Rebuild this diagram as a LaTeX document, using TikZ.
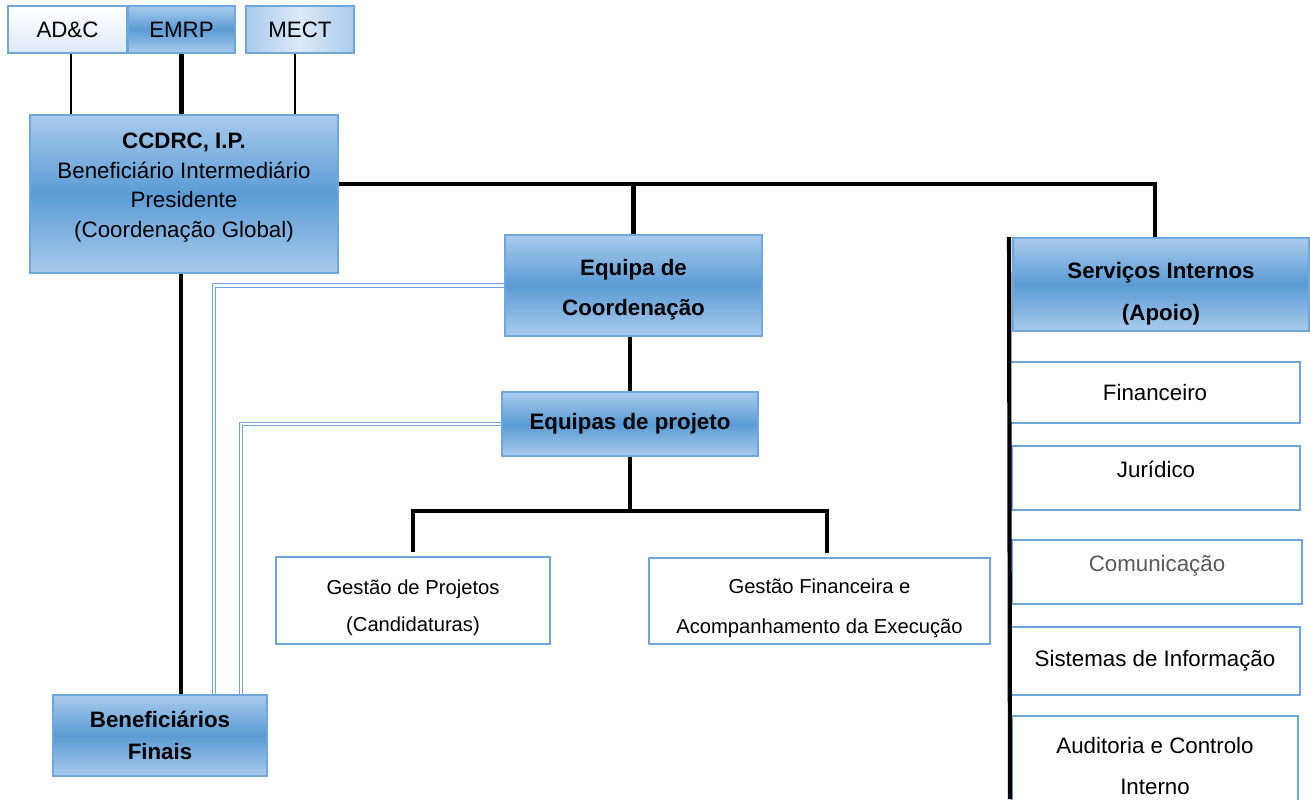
\documentclass[tikz,border=0pt]{standalone}
\usepackage{fontspec}
\setmainfont{Liberation Sans}
\usetikzlibrary{positioning}

\definecolor{boxline}{HTML}{6FA6DC}
\definecolor{darkfill}{HTML}{5B9BD5}
\definecolor{lightfill}{HTML}{A9CBEC}
\definecolor{palefill}{HTML}{DCE9F7}
\definecolor{greytext}{HTML}{595959}

\tikzset{
  base/.style={rectangle, draw=boxline, line width=1.1pt, align=center, inner sep=2pt,
    font=\fontsize{12.7}{15}\selectfont},
  bluebox/.style={base, top color=lightfill, bottom color=lightfill, middle color=darkfill},
  whitebox/.style={base, fill=white},
  smallbox/.style={whitebox, font=\fontsize{11.5}{14}\selectfont},
  thickline/.style={line width=2.4pt, black},
  thinline/.style={line width=0.9pt, black},
  dbline/.style={draw=boxline, line width=0.5pt, double=white, double distance=1.3pt}
}

\begin{document}
\begin{tikzpicture}[x=0.02cm,y=-0.02cm]
  \clip (0,0) rectangle (1310,799);
  \fill[white] (0,0) rectangle (1310,799);

  % Tutela
  \node[base, top color=white, bottom color=palefill, minimum width=2.38cm, minimum height=0.94cm] (adc) at (67.5,29.5) {AD\&C};
  \node[bluebox, minimum width=2.14cm, minimum height=0.94cm] (emrp) at (181.5,29.5) {EMRP};
  \node[base, left color=lightfill, right color=lightfill, middle color=palefill, minimum width=2.16cm, minimum height=0.94cm] (mect) at (300,29.5) {MECT};

  % Coordenacao
  \node[bluebox, minimum width=6.16cm, minimum height=3.16cm, text depth=0.35cm] (ccdrc) at (184,194)
    {\textbf{CCDRC, I.P.}\\[2pt] Beneficiário Intermediário\\[2pt] Presidente\\[2pt] (Coordenação Global)};
  \node[bluebox, minimum width=5.14cm, minimum height=2.02cm, text height=1.28cm] (eqcoord) at (633.5,285.5)
    {\textbf{Equipa de}\\[7.5pt] \textbf{Coordenação}};
  \node[bluebox, minimum width=5.12cm, minimum height=1.28cm] (eqproj) at (630,424) {\textbf{Equipas de projeto}};
  \node[smallbox, minimum width=5.48cm, minimum height=1.74cm, text height=1.34cm] (gestproj) at (413,600.5)
    {Gestão de Projetos\\[7.5pt] (Candidaturas)};
  \node[smallbox, minimum width=6.82cm, minimum height=1.72cm, text height=1.37cm] (gestfin) at (819.5,601)
    {Gestão Financeira e\\[8.5pt] Acompanhamento da Execução};
  \node[bluebox, minimum width=4.28cm, minimum height=1.62cm] (benef) at (160,735.5)
    {\textbf{Beneficiários}\\[3pt] \textbf{Finais}};

  % Servicos internos
  \node[bluebox, minimum width=5.92cm, minimum height=1.86cm, text height=1.52cm] (servicos) at (1161,284.5)
    {\textbf{Serviços Internos}\\[8.5pt] \textbf{(Apoio)}};
  \node[whitebox, minimum width=5.8cm, minimum height=1.22cm] (fin) at (1155,392.5) {Financeiro};
  \node[whitebox, minimum width=5.76cm, minimum height=1.28cm, text depth=0.36cm] (jur) at (1156,478) {Jurídico};
  \node[whitebox, minimum width=5.8cm, minimum height=1.28cm, text depth=0.36cm, text=greytext] (com) at (1157,572) {Comunicação};
  \node[whitebox, minimum width=5.8cm, minimum height=1.36cm] (sis) at (1155,661) {Sistemas de Informação};
  \node[whitebox, minimum width=5.72cm, minimum height=2cm] (aud) at (1155,766)
    {Auditoria e Controlo\\[8.5pt] Interno};

  \coordinate (top) at ([yshift=0.2cm]ccdrc.east);
  \coordinate (fork) at ([yshift=-1.08cm]eqproj.south);
  \coordinate (bottom) at (1010,799);

  % Ligacoes
  \draw[thinline] ([xshift=0.07cm]adc.south) -- ([xshift=0.07cm]adc.south |- ccdrc.north);
  \draw[thickline] (emrp.south) -- (emrp.south |- ccdrc.north);
  \draw[thinline] ([xshift=-0.1cm]mect.south) -- ([xshift=-0.1cm]mect.south |- ccdrc.north);
  \draw[thickline] (top) -| ([xshift=-0.12cm]servicos.north);
  \draw[thickline] (eqcoord.north |- top) -- (eqcoord.north);
  \draw[thickline] (eqproj.north |- eqcoord.south) -- (eqproj.north);
  \draw[thickline] (eqproj.south) -- (fork);
  \draw[thickline] ([yshift=0.08cm]gestproj.north) |- (fork) -| ([xshift=0.15cm, yshift=0.08cm]gestfin.north);
  \draw[thickline] ([xshift=-0.06cm]ccdrc.south) -- ([xshift=-0.06cm]ccdrc.south |- benef.north);
  \draw[thickline] ([xshift=-0.06cm]servicos.north west) -- (bottom);

  % Ligacoes de acompanhamento
  \draw[dbline] (eqcoord.west) -| ([xshift=-1.08cm]benef.north east);
  \draw[dbline] (eqproj.west) -| ([xshift=-0.54cm]benef.north east);
\end{tikzpicture}
\end{document}
